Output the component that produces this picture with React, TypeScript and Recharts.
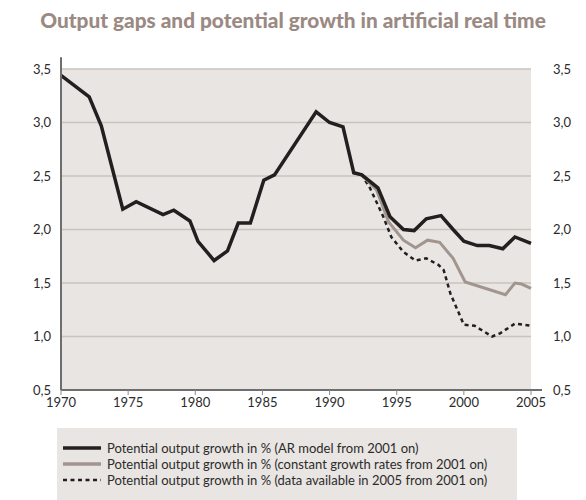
import * as React from "react";
import { LineChart, Line, XAxis, YAxis, CartesianGrid, ReferenceLine } from "recharts";

const TITLE = "Output gaps and potential growth in artificial real time";

// ── Series ─────────────────────────────────────────────────────────────────

const arYears = [
  1970.0, 1972.1, 1973.0, 1974.6, 1975.6, 1977.6, 1978.4, 1979.6, 1980.2, 1981.4,
  1982.4, 1983.2, 1984.1, 1985.1, 1985.9, 1989.0, 1990.0, 1991.0, 1991.8, 1992.4,
  1993.6, 1994.5, 1995.5, 1996.3, 1997.2, 1998.3, 1999.2, 2000.0, 2001.0, 2001.9,
  2002.9, 2003.8, 2005.0,
];
const arValues = [
  3.44, 3.24, 2.97, 2.19, 2.26, 2.14, 2.18, 2.08, 1.89, 1.71,
  1.8, 2.06, 2.06, 2.46, 2.51, 3.1, 3.0, 2.96, 2.53, 2.51,
  2.39, 2.12, 2.0, 1.99, 2.1, 2.13, 2.0, 1.89, 1.85, 1.85,
  1.82, 1.93, 1.87,
];

const constYears = [
  1991.8, 1992.4, 1993.5, 1994.4, 1995.5, 1996.4, 1997.3, 1998.2, 1999.2, 2000.1,
  2003.1, 2003.8, 2004.3, 2005.0,
];
const constValues = [
  2.53, 2.51, 2.37, 2.07, 1.9, 1.83, 1.9, 1.88, 1.73, 1.51,
  1.39, 1.5, 1.49, 1.45,
];

const availYears = [
  1991.8, 1992.4, 1993.0, 1994.0, 1994.6, 1995.5, 1996.4, 1997.2, 1998.1, 1998.5,
  1999.0, 2000.0, 2000.8, 2002.1, 2002.7, 2003.8, 2005.0,
];
const availValues = [
  2.53, 2.51, 2.39, 2.12, 1.93, 1.79, 1.71, 1.73, 1.67, 1.62,
  1.4, 1.11, 1.1, 1.0, 1.03, 1.12, 1.1,
];

const xTicks = [1970, 1975, 1980, 1985, 1990, 1995, 2000, 2005];
const yTicks = [0.5, 1.0, 1.5, 2.0, 2.5, 3.0, 3.5];

const zip = (xs: number[], ys: number[]) => xs.map((year, i) => ({ year, value: ys[i] }));

// both y axes share the same fixed domain, so the axis a line is tied to does not move it
const SERIES = [
  {
    key: "avail",
    name: "Potential output growth in % (data available in 2005 from 2001 on)",
    data: zip(availYears, availValues),
    color: "#231f20",
    width: 2.5,
    dash: "4 3.5",
    axis: "left",
  },
  {
    key: "const",
    name: "Potential output growth in % (constant growth rates from 2001 on)",
    data: zip(constYears, constValues),
    color: "#a1968f",
    width: 3,
    dash: undefined,
    axis: "right",
  },
  {
    key: "ar",
    name: "Potential output growth in % (AR model from 2001 on)",
    data: zip(arYears, arValues),
    color: "#231f20",
    width: 3.5,
    dash: undefined,
    axis: "left",
  },
];

const BG = "#e9e5e2";
const FONT = "Lato, 'Open Sans', sans-serif";
const fmt = (v: number) => v.toFixed(1).replace(".", ",");

function LegendBox() {
  const rows = [...SERIES].reverse();
  return (
    <div
      style={{
        position: "absolute",
        left: 57,
        top: 428,
        width: 460,
        height: 72,
        background: BG,
        boxSizing: "border-box",
        paddingTop: 12,
        paddingLeft: 6,
      }}
    >
      {rows.map((s) => (
        <div key={s.key} style={{ display: "flex", alignItems: "center", height: 16 }}>
          <svg width={38} height={6} style={{ marginRight: 6 }}>
            <line
              x1={0}
              y1={3}
              x2={38}
              y2={3}
              stroke={s.color}
              strokeWidth={s.dash ? 2.5 : 3.5}
              strokeDasharray={s.dash}
            />
          </svg>
          <span style={{ fontSize: 13, color: "#2b2b2b", fontFamily: FONT, whiteSpace: "nowrap" }}>
            {s.name}
          </span>
        </div>
      ))}
    </div>
  );
}

export default function App() {
  return (
    <div
      style={{
        position: "absolute",
        left: 0,
        top: 0,
        width: 586,
        height: 500,
        background: "#fff",
        fontFamily: FONT,
      }}
    >
      <div
        style={{
          position: "absolute",
          top: 7,
          width: "100%",
          textAlign: "center",
          fontSize: 20.8,
          fontWeight: 900,
          color: "#9b8a83",
        }}
      >
        {TITLE}
      </div>
      <div style={{ position: "absolute", left: 0, top: 0 }}>
        <LineChart width={586} height={420} margin={{ top: 69, right: 0, bottom: 0, left: 0 }}>
          <CartesianGrid
            yAxisId="left"
            vertical={false}
            fill={BG}
            stroke="#cbc3bd"
            strokeWidth={1.5}
          />
          <XAxis
            dataKey="year"
            type="number"
            domain={[1970, 2005]}
            ticks={xTicks}
            allowDuplicatedCategory={false}
            height={30}
            axisLine={{ stroke: "#6e6e6e", strokeWidth: 2 }}
            tickLine={{ stroke: "#8a8a8a" }}
            tickSize={5}
            tickMargin={3}
            tick={{ fontSize: 13, fill: "#2b2b2b", fontFamily: FONT }}
          />
          <YAxis
            yAxisId="left"
            type="number"
            domain={[0.5, 3.5]}
            ticks={yTicks}
            width={61}
            axisLine={{ stroke: "#6e6e6e", strokeWidth: 2 }}
            tickLine={false}
            tickSize={0}
            tickMargin={10}
            tickFormatter={fmt}
            tick={{ fontSize: 13, fill: "#2b2b2b", fontFamily: FONT }}
          />
          <YAxis
            yAxisId="right"
            orientation="right"
            type="number"
            domain={[0.5, 3.5]}
            ticks={yTicks}
            width={55}
            axisLine={false}
            tickLine={false}
            tickSize={0}
            tickMargin={22}
            tickFormatter={fmt}
            tick={{ fontSize: 13, fill: "#2b2b2b", fontFamily: FONT }}
          />
          <ReferenceLine
            yAxisId="left"
            segment={[{ x: 1970, y: 3.5 }, { x: 1970, y: 3.61 }]}
            ifOverflow="visible"
            stroke="#6e6e6e"
            strokeWidth={2}
          />
          <ReferenceLine
            yAxisId="left"
            segment={[{ x: 2005, y: 0.5 }, { x: 2005.82, y: 0.5 }]}
            ifOverflow="visible"
            stroke="#6e6e6e"
            strokeWidth={2}
          />
          {SERIES.map((s) => (
            <Line
              key={s.key}
              yAxisId={s.axis}
              data={s.data}
              dataKey="value"
              type="linear"
              stroke={s.color}
              strokeWidth={s.width}
              strokeDasharray={s.dash}
              strokeLinejoin="miter"
              dot={false}
              activeDot={false}
              isAnimationActive={false}
            />
          ))}
        </LineChart>
      </div>
      <LegendBox />
    </div>
  );
}
